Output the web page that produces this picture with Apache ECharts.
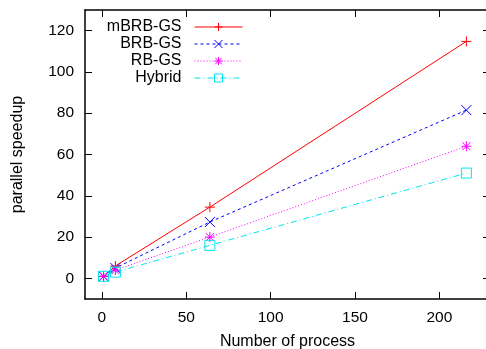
<!DOCTYPE html>
<html><head><meta charset="utf-8">
<script src="https://cdn.jsdelivr.net/npm/echarts@6/dist/echarts.min.js"></script>
<style>html,body{margin:0;padding:0;background:#fff}#c{width:486px;height:349px}</style>
</head><body><div id="c"></div>
<script>
var processes = [1, 8, 64, 216];
var mBRB = [1, 6, 34.5, 114.8];
var BRB = [1, 5, 27.3, 81.5];
var RB = [1, 4, 20, 64];
var Hybrid = [1, 3, 16, 51];
var xTicks = [0, 50, 100, 150, 200];
var yTicks = [0, 20, 40, 60, 80, 100, 120];
var names = ['mBRB-GS', 'BRB-GS', 'RB-GS', 'Hybrid'];

var F = 'Liberation Sans, Arial, sans-serif';
var plusP = 'path://M0,-1L0,1M-1,0L1,0';
var crossP = 'path://M-1,-1L1,1M-1,1L1,-1';
var starP = 'path://M0,-1L0,1M-1,0L1,0M-0.8,-0.8L0.8,0.8M-0.8,0.8L0.8,-0.8';
var sqP = 'path://M-1,-1L1,-1L1,1L-1,1Z';
var styles = [
  {c: '#ff0000', t: 'solid', s: plusP, z: 10},
  {c: '#0000ff', t: [3, 3], s: crossP, z: 10},
  {c: '#ff00ff', t: [1, 2], s: starP, z: 10},
  {c: '#00e5ee', t: [6, 3, 1, 3], s: sqP, z: 10}
];
var datas = [mBRB, BRB, RB, Hybrid];
function pairs(v){ return processes.map(function(x,i){ return [x, v[i]]; }); }

var series = names.map(function(n, i){
  var st = styles[i];
  return {
    name: n, type: 'line', data: pairs(datas[i]),
    symbol: st.s, symbolSize: st.z, showSymbol: true,
    lineStyle: {color: st.c, width: 1, type: st.t},
    itemStyle: {color: i === 3 ? 'none' : st.c, borderColor: st.c, borderWidth: 1},
    emphasis: {disabled: true}, animation: false
  };
});

var legends = names.map(function(n, i){
  return {
    data: [n], right: 243, top: 19 + i * 17, orient: 'vertical', align: 'right',
    itemWidth: 48, itemHeight: 10, itemGap: 0, padding: 0,
    lineStyle: {width: 1},
    itemStyle: {borderWidth: 1},
    textStyle: {fontFamily: F, fontSize: 16, color: '#000', padding: [0, 8, 0, 0]},
    selectedMode: false
  };
});

var axisCommonX = {
  type: 'value', min: -10, max: 230,
  axisLine: {show: true, onZero: false, lineStyle: {color: '#000', width: 1.5}},
  axisTick: {show: true, inside: true, length: 7, customValues: xTicks, lineStyle: {color: '#000', width: 1}},
  splitLine: {show: false}
};
var axisCommonY = {
  type: 'value', min: -10, max: 130,
  axisLine: {show: true, onZero: false, lineStyle: {color: '#000', width: 1.5}},
  axisTick: {show: true, inside: true, length: 7, customValues: yTicks, lineStyle: {color: '#000', width: 1}},
  splitLine: {show: false}
};

var chart = echarts.init(document.getElementById('c'), null, {renderer: 'canvas'});
chart.setOption({
  animation: false,
  backgroundColor: '#fff',
  grid: {left: 85, right: -4, top: 10, bottom: 50, containLabel: false, outerBoundsMode: 'none'},
  legend: legends,
  xAxis: [
    Object.assign({}, axisCommonX, {
      position: 'bottom', name: 'Number of process', nameLocation: 'middle', nameGap: 35,
      nameTextStyle: {fontFamily: F, fontSize: 16, color: '#000'},
      axisLabel: {show: true, customValues: xTicks, margin: 11, fontFamily: F, fontSize: 15.5, color: '#000'}
    }),
    Object.assign({}, axisCommonX, {position: 'top', axisLabel: {show: false}})
  ],
  yAxis: [
    Object.assign({}, axisCommonY, {
      position: 'left', name: 'parallel speedup', nameLocation: 'middle', nameGap: 59,
      nameTextStyle: {fontFamily: F, fontSize: 16, color: '#000'},
      axisLabel: {show: true, customValues: yTicks, margin: 11, fontFamily: F, fontSize: 15.5, color: '#000'}
    }),
    Object.assign({}, axisCommonY, {position: 'right', axisLabel: {show: false}})
  ],
  series: series
});
</script></body></html>
